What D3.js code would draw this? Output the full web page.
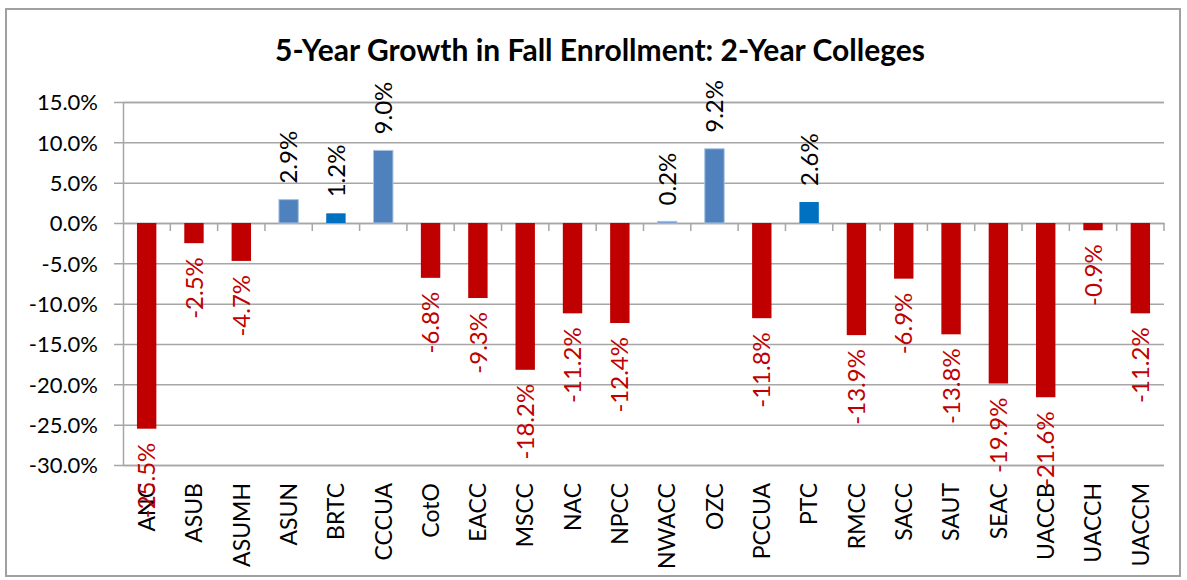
<!DOCTYPE html>
<html>
<head>
<meta charset="utf-8">
<script src="https://cdn.jsdelivr.net/npm/d3@7"></script>
<style>
  body { margin: 0; background: #fff; }
  text { font-family: Lato, "Open Sans", sans-serif; }
</style>
</head>
<body>
<div id="chart"></div>
<script>
const colleges = ['ANC', 'ASUB', 'ASUMH', 'ASUN', 'BRTC', 'CCCUA', 'CotO', 'EACC', 'MSCC', 'NAC', 'NPCC',
  'NWACC', 'OZC', 'PCCUA', 'PTC', 'RMCC', 'SACC', 'SAUT', 'SEAC', 'UACCB', 'UACCH', 'UACCM'];
const growth = [-25.5, -2.5, -4.7, 2.9, 1.2, 9.0, -6.8, -9.3, -18.2, -11.2, -12.4,
  0.2, 9.2, -11.8, 2.6, -13.9, -6.9, -13.8, -19.9, -21.6, -0.9, -11.2];
const yTicks = [15, 10, 5, 0, -5, -10, -15, -20, -25, -30];
const titleText = '5-Year Growth in Fall Enrollment: 2-Year Colleges';

// colours
const negColor = '#C00000';
const posColor = '#4F81BD';
const posAltColor = '#0070C0';
const altColleges = ['BRTC', 'PTC'];
const gridColor = '#A6A6A6';

const width = 1187;
const height = 580;
const margin = {left: 123, right: 23, top: 102, bottom: 115};

const svg = d3.select('#chart').append('svg')
  .attr('width', width)
  .attr('height', height);

svg.append('rect')
  .attr('x', 0).attr('y', 0)
  .attr('width', width).attr('height', height)
  .attr('fill', '#fff');

// outer border
svg.append('rect')
  .attr('x', 6).attr('y', 9)
  .attr('width', 1174).attr('height', 567)
  .attr('fill', 'none')
  .attr('stroke', '#A0A0A0')
  .attr('stroke-width', 2);

svg.append('text')
  .attr('x', 600)
  .attr('y', 61)
  .attr('text-anchor', 'middle')
  .style('font-size', '30px')
  .style('font-weight', 'bold')
  .attr('fill', '#000')
  .text(titleText);

const xScale = d3.scaleBand()
  .domain(colleges)
  .range([margin.left, width - margin.right])
  .paddingInner(0.59)
  .paddingOuter(0.295);

const xBand = d3.scaleBand()
  .domain(colleges)
  .range([margin.left, width - margin.right]);

const yScale = d3.scaleLinear()
  .domain([-30, 15])
  .range([height - margin.bottom, margin.top]);

// gridlines + y axis labels
const yAxis = d3.axisLeft(yScale)
  .tickValues(yTicks)
  .tickSize(-(width - margin.right - margin.left))
  .tickFormat(d => d.toFixed(1) + '%');

const yAxisG = svg.append('g')
  .attr('transform', `translate(${margin.left}, 0)`)
  .call(yAxis);
yAxisG.select('.domain').attr('stroke', gridColor).attr('stroke-width', 1.5);
yAxisG.selectAll('line')
  .attr('stroke', gridColor)
  .attr('stroke-width', 1.5)
  .attr('x1', -9);
yAxisG.selectAll('text')
  .attr('x', -25)
  .attr('fill', '#000')
  .style('font-size', '22px')
  .attr('dy', '0.36em');

// category axis on the zero line
const xAxis = d3.axisBottom(xBand).tickSize(0).tickFormat('');
const xAxisG = svg.append('g')
  .attr('transform', `translate(0, ${yScale(0)})`)
  .call(xAxis);
xAxisG.select('.domain').attr('stroke', gridColor).attr('stroke-width', 1.5);

// category tick marks at band boundaries
xAxisG.selectAll('.cat-tick')
  .data(colleges)
  .enter()
  .append('line')
  .attr('class', 'cat-tick')
  .attr('x1', d => xBand(d) + xBand.bandwidth())
  .attr('x2', d => xBand(d) + xBand.bandwidth())
  .attr('y1', 0)
  .attr('y2', 8)
  .attr('stroke', gridColor)
  .attr('stroke-width', 1.5);

// bars
svg.append('g')
  .selectAll('rect')
  .data(colleges)
  .enter()
  .append('rect')
  .attr('x', d => xScale(d))
  .attr('width', xScale.bandwidth())
  .attr('y', (d, i) => yScale(Math.max(0, growth[i])))
  .attr('height', (d, i) => Math.abs(yScale(growth[i]) - yScale(0)))
  .attr('fill', (d, i) => growth[i] < 0 ? negColor : (altColleges.includes(d) ? posAltColor : posColor))
  .attr('stroke', (d, i) => growth[i] < 0 ? 'none' : (altColleges.includes(d) ? 'none' : '#A9C1E0'))
  .attr('stroke-width', 1);

// category labels, rotated, at bottom
svg.append('g')
  .selectAll('text')
  .data(colleges)
  .enter()
  .append('text')
  .attr('transform', d => `translate(${xBand(d) + xBand.bandwidth() / 2}, ${yScale(-30) + 18}) rotate(-90)`)
  .attr('text-anchor', 'end')
  .attr('dy', '0.36em')
  .style('font-size', '23px')
  .attr('fill', '#000')
  .text(d => d);

// data labels
svg.append('g')
  .selectAll('text')
  .data(colleges)
  .enter()
  .append('text')
  .attr('transform', (d, i) => {
    const v = growth[i];
    const y = v < 0 ? yScale(v) + 14 : yScale(v) - 16;
    return `translate(${xBand(d) + xBand.bandwidth() / 2}, ${y}) rotate(-90)`;
  })
  .attr('text-anchor', (d, i) => growth[i] < 0 ? 'end' : 'start')
  .attr('dy', '0.36em')
  .style('font-size', '24px')
  .attr('fill', (d, i) => growth[i] < 0 ? negColor : '#000')
  .text((d, i) => growth[i].toFixed(1) + '%');
</script>
</body>
</html>
